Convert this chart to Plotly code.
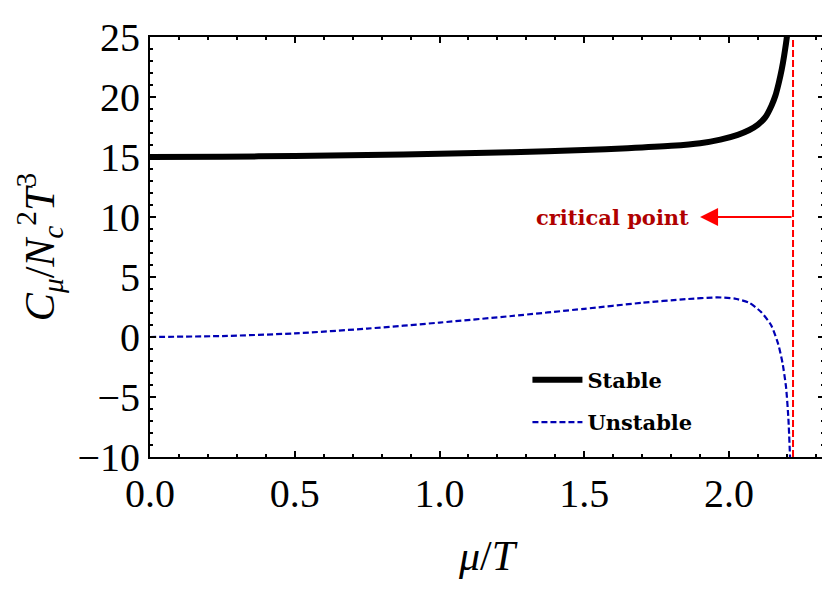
import plotly.graph_objects as go

# stable branch
mu_stable = [0.0, 0.25, 0.5, 0.75, 1.0, 1.25, 1.5, 1.65, 1.8, 1.9, 1.97, 2.03,
             2.07, 2.1, 2.125, 2.147, 2.16, 2.172, 2.182, 2.19, 2.197, 2.203]
c_stable = [15.0, 15.03, 15.08, 15.16, 15.27, 15.4, 15.58, 15.73, 15.93, 16.15,
            16.45, 16.85, 17.25, 17.7, 18.3, 19.3, 20.1, 21.2, 22.3, 23.4, 24.5, 25.6]

# unstable branch
mu_unstable = [0.0, 0.25, 0.5, 0.75, 1.0, 1.25, 1.5, 1.7, 1.85, 1.96, 2.02,
               2.07, 2.11, 2.145, 2.17, 2.185, 2.197, 2.205, 2.211]
c_unstable = [0.0, 0.08, 0.3, 0.7, 1.2, 1.75, 2.35, 2.85, 3.15, 3.3, 3.2,
              2.85, 2.1, 1.0, -0.6, -2.2, -4.2, -6.8, -10.2]

MU_CRIT = 2.221
ARROW_TIP = 1.90
ARROW_Y = 10

x_ticks = [0.0, 0.5, 1.0, 1.5, 2.0]
x_ticktext = ["0.0", "0.5", "1.0", "1.5", "2.0"]
y_ticks = [-10, -5, 0, 5, 10, 15, 20, 25]
y_ticktext = ["\u221210", "\u22125", "0", "5", "10", "15", "20", "25"]

FONT = "Liberation Serif, Times New Roman, serif"
BOLD_FONT = "DejaVu Serif, serif"

fig = go.Figure()

fig.add_trace(
    go.Scatter(
        x=mu_stable,
        y=c_stable,
        mode="lines",
        name="<b>Stable</b>",
        legendgroup="stable",
        line=dict(color="black", width=6, shape="spline", smoothing=0.6),
    )
)

fig.add_trace(
    go.Scatter(
        x=mu_unstable,
        y=c_unstable,
        mode="lines",
        name="<b>Unstable</b>",
        legendgroup="unstable",
        line=dict(color="#0000b4", width=2.2, dash="6px,3px", shape="spline", smoothing=0.6),
    )
)

# critical point marker line
fig.add_vline(x=MU_CRIT, line=dict(color="#ff0000", width=2, dash="7px,3px"))

fig.add_annotation(
    x=ARROW_TIP,
    y=ARROW_Y,
    ax=MU_CRIT,
    ay=ARROW_Y,
    xref="x",
    yref="y",
    axref="x",
    ayref="y",
    text="",
    showarrow=True,
    arrowhead=2,
    arrowsize=1.8,
    arrowwidth=2,
    arrowcolor="#ff0000",
)
fig.add_annotation(
    x=ARROW_TIP - 0.03,
    y=ARROW_Y,
    xref="x",
    yref="y",
    text="<b>critical point</b>",
    showarrow=False,
    xanchor="right",
    font=dict(family=BOLD_FONT, size=21, color="#b00000"),
)

# the page adds an 8px body margin, so the figure is drawn 8px smaller
fig.update_layout(
    width=822,
    height=589,
    margin=dict(l=142, r=4, t=29, b=140),
    paper_bgcolor="white",
    plot_bgcolor="white",
    font=dict(family=FONT, color="black", size=40),
    legend=dict(
        x=0.56,
        y=0.133,
        xanchor="left",
        yanchor="middle",
        bgcolor="rgba(0,0,0,0)",
        font=dict(family=BOLD_FONT, size=21, color="black"),
        tracegroupgap=12,
        itemwidth=50,
    ),
)

axis_common = dict(
    showline=True,
    linecolor="black",
    linewidth=2,
    mirror="allticks",
    ticks="inside",
    ticklen=6,
    tickwidth=1.5,
    tickcolor="black",
    showgrid=False,
    zeroline=False,
    tickfont=dict(family=FONT, size=40, color="black"),
)

fig.update_xaxes(
    range=[0, 2.328],
    tickmode="array",
    tickvals=x_ticks,
    ticktext=x_ticktext,
    minor=dict(dtick=0.1, ticks="inside", ticklen=3, tickwidth=1.5, tickcolor="black", showgrid=False),
    title=dict(text="<i>\u03bc</i>/<i>T</i>", font=dict(family=FONT, size=42), standoff=26),
    **axis_common,
)

fig.update_yaxes(
    range=[-10, 25],
    tickmode="array",
    tickvals=y_ticks,
    ticktext=y_ticktext,
    minor=dict(dtick=1, ticks="inside", ticklen=3, tickwidth=1.5, tickcolor="black", showgrid=False),
    title=dict(
        text="<i>C</i><sub><i>\u03bc</i></sub>/<i>N</i><sub><i>c</i></sub><sup>2</sup><i>T</i><sup>3</sup>",
        font=dict(family=FONT, size=42),
        standoff=10,
    ),
    **axis_common,
)

fig.write_html("out.html")
